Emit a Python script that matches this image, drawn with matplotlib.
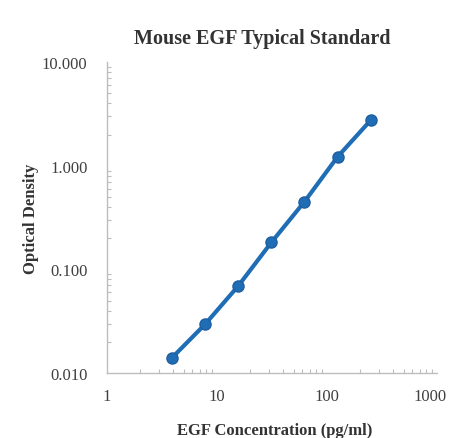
import matplotlib
matplotlib.use("Agg")
import matplotlib.pyplot as plt
import matplotlib.transforms as mtransforms
from matplotlib.ticker import FixedLocator, LogLocator, NullFormatter

plt.rcParams['font.family'] = ['Liberation Serif']

concentration = [3.9, 7.8, 15.6, 31.25, 62.5, 125, 250]
optical_density = [0.014, 0.0295, 0.069, 0.182, 0.45, 1.22, 2.75]
x_ticks = [1, 10, 100, 1000]
x_labels = ["1", "10", "100", "1000"]
y_ticks = [0.01, 0.1, 1, 10]
y_labels = ["0.010", "0.100", "1.000", "10.000"]

fig = plt.figure(figsize=(4.49, 4.39), dpi=100)
ax = fig.add_axes([0.238, 0.148, 0.735, 0.708])

ax.plot(concentration, optical_density, color="#1f6eb5", lw=3, marker="o",
        markersize=8, markerfacecolor="#1f6eb5", markeredgecolor="#1f5fa0")

ax.set_xscale("log")
ax.set_yscale("log")
ax.set_xlim(1, 1000)
ax.set_ylim(0.01, 10)

ax.xaxis.set_major_locator(FixedLocator(x_ticks))
ax.set_xticklabels(x_labels)
ax.yaxis.set_major_locator(FixedLocator(y_ticks))
ax.set_yticklabels(y_labels)
ax.xaxis.set_minor_locator(LogLocator(base=10, subs=range(2, 10)))
ax.yaxis.set_minor_locator(LogLocator(base=10, subs=range(2, 10)))
ax.xaxis.set_minor_formatter(NullFormatter())
ax.yaxis.set_minor_formatter(NullFormatter())

for side in ["top", "right"]:
    ax.spines[side].set_visible(False)
for side in ["left", "bottom"]:
    ax.spines[side].set_color("#bdbdbd")
    ax.spines[side].set_linewidth(1)

ax.tick_params(which="major", direction="in", length=0, labelsize=12, colors="#bdbdbd",
               labelcolor="#404040")
ax.tick_params(axis="y", which="major", pad=14)
ax.tick_params(axis="x", which="major", pad=11)
ax.tick_params(which="minor", direction="in", length=3, width=0.8, colors="#bdbdbd")

# keep "1000" inside the canvas
last = ax.get_xticklabels()[-1]
last.set_transform(last.get_transform() +
                   mtransforms.ScaledTranslation(-5 / 72, 0, fig.dpi_scale_trans))

ax.set_title("Mouse EGF Typical Standard", fontsize=14.5, fontweight="bold",
             color="#333333", pad=14, x=0.47)
ax.set_ylabel("Optical Density", fontsize=12, fontweight="bold", color="#333333")
ax.yaxis.set_label_coords(-0.205, 0.5)
ax.set_xlabel("EGF Concentration (pg/ml)", fontsize=12, fontweight="bold",
              color="#333333")
ax.xaxis.set_label_coords(0.51, -0.158)

fig.savefig("out.png", dpi=100)
